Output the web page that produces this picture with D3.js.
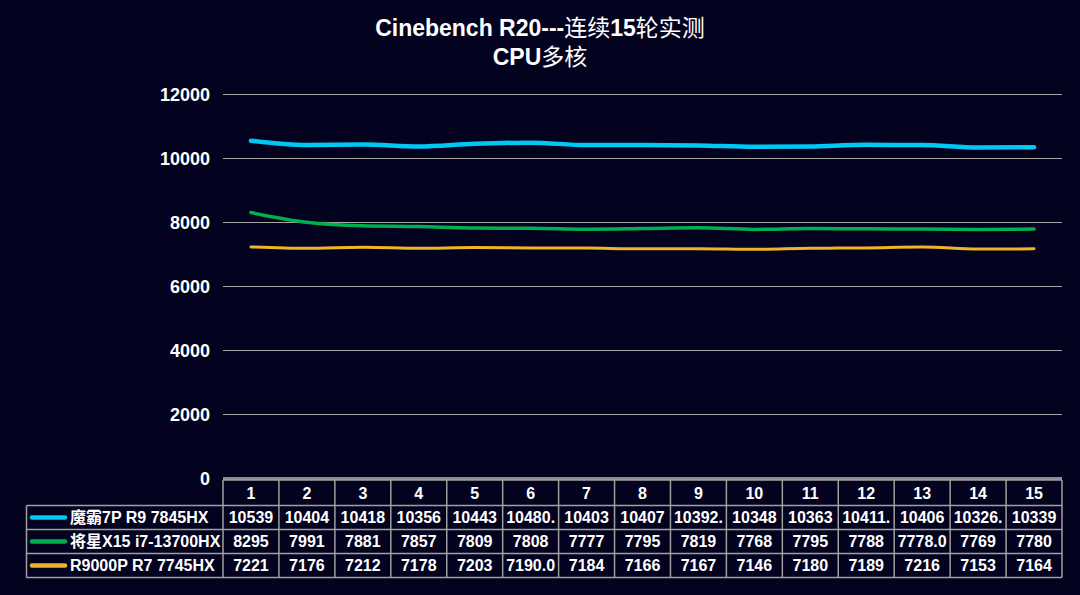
<!DOCTYPE html>
<html><head><meta charset="utf-8">
<script src="https://cdn.jsdelivr.net/npm/d3@7"></script>
<style>
html,body{margin:0;padding:0;background:#03031f;}
svg{display:block;}
</style></head>
<body>
<svg id="chart" width="1080" height="595"></svg>
<script>
const rounds = ["1","2","3","4","5","6","7","8","9","10","11","12","13","14","15"];
const seriesNames = ["魔霸7P R9 7845HX","将星X15 i7-13700HX","R9000P R7 7745HX"];
const moba = [10539,10404,10418,10356,10443,10480,10403,10407,10392,10348,10363,10411,10406,10326,10339];
const jiangxing = [8295,7991,7881,7857,7809,7808,7777,7795,7819,7768,7795,7788,7778,7769,7780];
const r9000p = [7221,7176,7212,7178,7203,7190,7184,7166,7167,7146,7180,7189,7216,7153,7164];
const mobaLabels = ["10539","10404","10418","10356","10443","10480.","10403","10407","10392.","10348","10363","10411.","10406","10326.","10339"];
const jiangxingLabels = ["8295","7991","7881","7857","7809","7808","7777","7795","7819","7768","7795","7788","7778.0","7769","7780"];
const r9000pLabels = ["7221","7176","7212","7178","7203","7190.0","7184","7166","7167","7146","7180","7189","7216","7153","7164"];
const yTicks = [0,2000,4000,6000,8000,10000,12000];
const colors = ["#00c8f5","#00b04f","#f0b429"];

const series = [
  {name: seriesNames[0], values: moba, labels: mobaLabels, color: colors[0], width: 4.5},
  {name: seriesNames[1], values: jiangxing, labels: jiangxingLabels, color: colors[1], width: 3.5},
  {name: seriesNames[2], values: r9000p, labels: r9000pLabels, color: colors[2], width: 3}
];

const svg = d3.select("#chart");
const W = 1080, H = 595;
svg.append("rect").attr("width",W).attr("height",H).attr("fill","#03031f");

const pLeft = 223, pRight = 1062, pTop = 94, pBottom = 478;
const latin = "'Liberation Sans', Arial, 'Noto Sans CJK SC', sans-serif";

// title
const title = svg.append("text").attr("x",540).attr("y",36).attr("text-anchor","middle")
  .attr("fill","#fff").attr("font-family",latin).attr("font-size",23);
title.append("tspan").attr("font-weight","bold").text("Cinebench R20---");
title.append("tspan").attr("font-family","'Noto Sans CJK SC'").attr("font-weight","normal").text("连续");
title.append("tspan").attr("font-weight","bold").text("15");
title.append("tspan").attr("font-family","'Noto Sans CJK SC'").attr("font-weight","normal").text("轮实测");
const t2 = svg.append("text").attr("x",540).attr("y",65).attr("text-anchor","middle")
  .attr("fill","#fff").attr("font-family",latin).attr("font-size",23);
t2.append("tspan").attr("font-weight","bold").text("CPU");
t2.append("tspan").attr("font-family","'Noto Sans CJK SC'").attr("font-weight","normal").text("多核");

const x = d3.scaleBand().domain(rounds).range([pLeft,pRight]);
const y = d3.scaleLinear().domain([0,12000]).range([pBottom,pTop]);

// grid
const yAxis = d3.axisLeft(y).tickValues(yTicks).tickSize(-(pRight-pLeft)).tickFormat(d3.format("d")).tickPadding(13);
const gy = svg.append("g").attr("transform",`translate(${pLeft},0)`).call(yAxis);
gy.select(".domain").remove();
gy.selectAll(".tick line").attr("stroke","#a6a6a6").attr("stroke-width",1.2);
gy.selectAll(".tick").filter(d=>d===0).select("line").attr("stroke","#8c8c8c").attr("stroke-width",3);
gy.selectAll(".tick text").attr("fill","#fff").attr("font-family",latin).attr("font-weight","bold").attr("font-size",18)
  .attr("dy","0.36em");

// lines
const line = d3.line().x((d,i)=>x(rounds[i])+x.bandwidth()/2).y(d=>y(d)).curve(d3.curveMonotoneX);
series.slice().reverse().forEach(s=>{
  svg.append("path").datum(s.values).attr("d",line).attr("fill","none")
    .attr("stroke",s.color).attr("stroke-width",s.width).attr("stroke-linecap","round").attr("stroke-linejoin","round");
});

// table
const rowTops = [480,505.5,529.5,553.5,577.5];
const tableLeft = 26.5;
const border = "#a0a0a0";
const fs = 16;
const tg = svg.append("g");
tg.selectAll("line.h").data(rowTops).enter().append("line")
  .attr("x1",(d,i)=> i===0 ? pLeft : tableLeft).attr("x2",pRight)
  .attr("y1",d=>d).attr("y2",d=>d).attr("stroke",border).attr("stroke-width",1.5);
const vx = rounds.map(r=>x(r)).concat([pRight]);
tg.selectAll("line.v").data(vx).enter().append("line")
  .attr("x1",d=>d).attr("x2",d=>d).attr("y1",rowTops[0]).attr("y2",rowTops[4])
  .attr("stroke",border).attr("stroke-width",1.5);
tg.append("line").attr("x1",tableLeft).attr("x2",tableLeft).attr("y1",rowTops[1]).attr("y2",rowTops[4])
  .attr("stroke",border).attr("stroke-width",1.5);

tg.selectAll("text.hd").data(rounds).enter().append("text")
  .attr("x",d=>x(d)+x.bandwidth()/2).attr("y",(rowTops[0]+rowTops[1])/2).attr("dy","0.36em")
  .attr("text-anchor","middle").attr("fill","#fff").attr("font-family",latin).attr("font-weight","bold")
  .attr("font-size",fs).text(d=>d);

series.forEach((s,si)=>{
  const cy = (rowTops[si+1]+rowTops[si+2])/2;
  tg.append("line").attr("x1",32).attr("x2",65).attr("y1",cy).attr("y2",cy)
    .attr("stroke",s.color).attr("stroke-width",4.5).attr("stroke-linecap","round");
  tg.append("text").attr("x",70).attr("y",cy).attr("dy","0.36em").attr("fill","#fff")
    .attr("font-family",latin).attr("font-weight","bold").attr("font-size",fs).text(s.name);
  tg.selectAll(null).data(s.labels).enter().append("text")
    .attr("x",(d,i)=>x(rounds[i])+x.bandwidth()/2).attr("y",cy).attr("dy","0.36em")
    .attr("text-anchor","middle").attr("fill","#fff").attr("font-family",latin).attr("font-weight","bold")
    .attr("font-size",fs).text(d=>d);
});
</script>
</body></html>
